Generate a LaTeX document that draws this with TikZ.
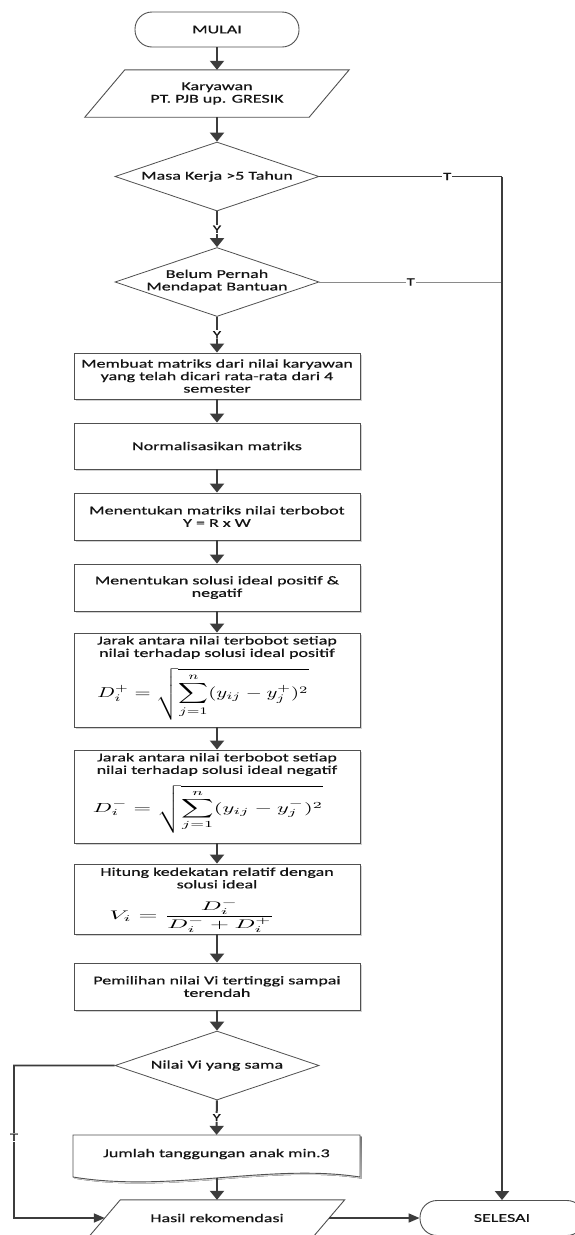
\documentclass[tikz,border=0pt]{standalone}
\usepackage{fontspec}
\setmainfont[FakeStretch=1.5,FakeBold=0.6]{Carlito}
\usepackage{graphicx}
\usetikzlibrary{shapes.geometric,arrows.meta,calc,shadows}

\definecolor{ink}{HTML}{3C3C3C}
\definecolor{edge}{HTML}{505050}
\definecolor{txt}{HTML}{141414}
\definecolor{soft}{HTML}{8A8A8A}
\definecolor{shade}{HTML}{D2D2D2}

\tikzset{
  base/.style={text=txt, font=\fontsize{12}{12.5}\selectfont, inner sep=0pt, align=center},
  procbox/.style={base, draw=edge, line width=0.9pt, fill=white, minimum width=286pt,
    drop shadow={shadow xshift=1.6pt, shadow yshift=-1.6pt, fill=shade, opacity=1}},
  term/.style={base, draw=edge, line width=0.9pt, rounded corners=17pt,
    minimum width=164pt, minimum height=35pt},
  decision/.style={diamond, draw=edge, line width=0.8pt, minimum width=204pt,
    minimum height=69pt, inner sep=0pt, shape aspect=2.95},
  shapeedge/.style={draw=edge, line width=0.9pt},
  flow/.style={draw=ink, line width=2pt, -{Triangle[length=9pt,width=14pt]}},
  flowthin/.style={draw=ink, line width=1.6pt, -{Triangle[length=11pt,width=9pt]}},
  branch/.style={draw=ink, line width=1.2pt},
  branchsoft/.style={draw=soft, line width=1pt},
  yn/.style={fill=white, inner sep=0.8pt, text=txt, font=\fontsize{11}{11}\selectfont},
  formula/.style={inner sep=0pt, text=black},
}

\begin{document}
\begin{tikzpicture}[x=1pt,y=-1pt]
\useasboundingbox (0,0) rectangle (575,1235);
\fill[white] (0,0) rectangle (575,1235);
\clip (0,0) rectangle (575,1235);

% start
\node[term] (mulai) at (217,29.5) {MULAI};

% input: employees
\node[base, minimum width=264pt, minimum height=47pt] (kary) at (217,93.5) {Karyawan\\PT. PJB up. GRESIK};
\draw[shapeedge] ($(kary.north west)+(40,0)$) -- (kary.north east)
  -- ($(kary.south east)+(-40,0)$) -- (kary.south west) -- cycle;

% first two checks
\node[decision] (d1) at (217,176.5) {};
\node[base] (d1t) at (217,176.5) {Masa Kerja >5 Tahun};
\node[decision] (d2) at (217,282) {};
\node[base] (d2t) at (217,281) {Belum Pernah\\Mendapat Bantuan};

% TOPSIS steps
\node[procbox, minimum height=46pt] (b1) at (217,376)
  {Membuat matriks dari nilai karyawan\\yang telah dicari rata-rata dari 4\\semester};
\node[procbox, minimum height=46pt] (b2) at (217,446) {Normalisasikan matriks};
\node[procbox, minimum height=47pt] (b3) at (217,516.5) {Menentukan matriks nilai terbobot\\Y = R x W};
\node[procbox, minimum height=47pt] (b4) at (217,587.5) {Menentukan solusi ideal positif \&\\negatif};

\node[procbox, minimum height=94pt] (b5) at (217,680) {};
\node[base] (b5t) at (217,647.5) {Jarak antara nilai terbobot setiap\\nilai terhadap solusi ideal positif};
\node[formula] (b5f) at (203,694)
  {\resizebox*{211pt}{52pt}{$\displaystyle D_i^{+} = \sqrt{\sum_{j=1}^{n}(y_{ij}-y_j^{+})^{2}}$}};

\node[procbox, minimum height=93pt] (b6) at (217,796.5) {};
\node[base] (b6t) at (217,764.5) {Jarak antara nilai terbobot setiap\\nilai terhadap solusi ideal negatif};
\node[formula] (b6f) at (208,809)
  {\resizebox*{230pt}{48pt}{$\displaystyle D_i^{-} = \sqrt{\sum_{j=1}^{n}(y_{ij}-y_j^{-})^{2}}$}};

\node[procbox, minimum height=70pt] (b7) at (217,899) {};
\node[base] (b7t) at (217,878) {Hitung kedekatan relatif dengan\\solusi ideal};
\node[formula] (b7f) at (192,916)
  {\resizebox*{165pt}{32pt}{$\displaystyle V_i = \frac{D_i^{-}}{D_i^{-}+D_i^{+}}$}};

\node[procbox, minimum height=47pt] (b8) at (217,986.5) {Pemilihan nilai Vi tertinggi sampai\\terendah};

% tie check
\node[decision] (d3) at (217,1065.5) {};
\node[base] (d3t) at (217,1065.5) {Nilai Vi yang sama};

% document: number of dependants
\fill[shade] (74.6,1136.6) -- (361.6,1136.6) -- (361.6,1178.6)
  .. controls (271.6,1164.6) and (171.6,1194.6) .. (74.6,1178.6) -- cycle;
\draw[shapeedge, fill=white] (73,1135) -- (360,1135) -- (360,1177)
  .. controls (270,1163) and (170,1193) .. (73,1177) -- cycle;
\node[base, minimum width=287pt, minimum height=42pt] (jumlah) at (216.5,1156) {};
\node[base] (jumlaht) at (216.5,1154) {Jumlah tanggungan anak min.3};
\coordinate (jbot) at (217,1178);

% output: recommendation
\node[base, minimum width=255pt, minimum height=36pt] (hasil) at (217,1218) {Hasil rekomendasi};
\coordinate (hasilTL) at ($(hasil.north west)+(31,0)$);
\coordinate (hasilBR) at ($(hasil.south east)+(-31,0)$);
\draw[shapeedge] (hasilTL) -- (hasil.north east) -- (hasilBR) -- (hasil.south west) -- cycle;
\coordinate (hasilL) at ($(hasilTL)!0.5!(hasil.south west)$);
\coordinate (hasilR) at ($(hasil.north east)!0.5!(hasilBR)$);

% end
\node[term] (selesai) at (502,1218) {SELESAI};

% main flow
\draw[flow] (mulai) -- (kary);
\draw[flow] (kary) -- (d1);
\draw[flow] (d1) -- node[yn]{Y} (d2);
\draw[flow] (d2) -- node[yn]{Y} (b1);
\draw[flow] (b1) -- (b2);
\draw[flow] (b2) -- (b3);
\draw[flow] (b3) -- (b4);
\draw[flow] (b4) -- (b5);
\draw[flow] (b5) -- (b6);
\draw[flow] (b6) -- (b7);
\draw[flow] (b7) -- (b8);
\draw[flow] (b8) -- (d3);
\draw[flow] (d3) -- node[yn]{Y} (jumlah);
\draw[flow] (jbot) -- (hasil);
\draw[flowthin] (hasilR) -- (selesai);

% "no" branches
\coordinate (j1) at (502,176.5);
\coordinate (j2) at (502,282);
\draw[branch] (d1) -- node[yn,pos=0.7]{T} (j1);
\draw[branchsoft] (d2) -- node[yn]{T} (j2);
\draw[flow] (j1) -- (selesai);
\coordinate (k1) at (14,1065.5);
\coordinate (k2) at (14,1218);
\draw[flowthin] (d3) -- (k1) -- node[yn,pos=0.47]{T} (k2) -- (hasilL);
\end{tikzpicture}
\end{document}
